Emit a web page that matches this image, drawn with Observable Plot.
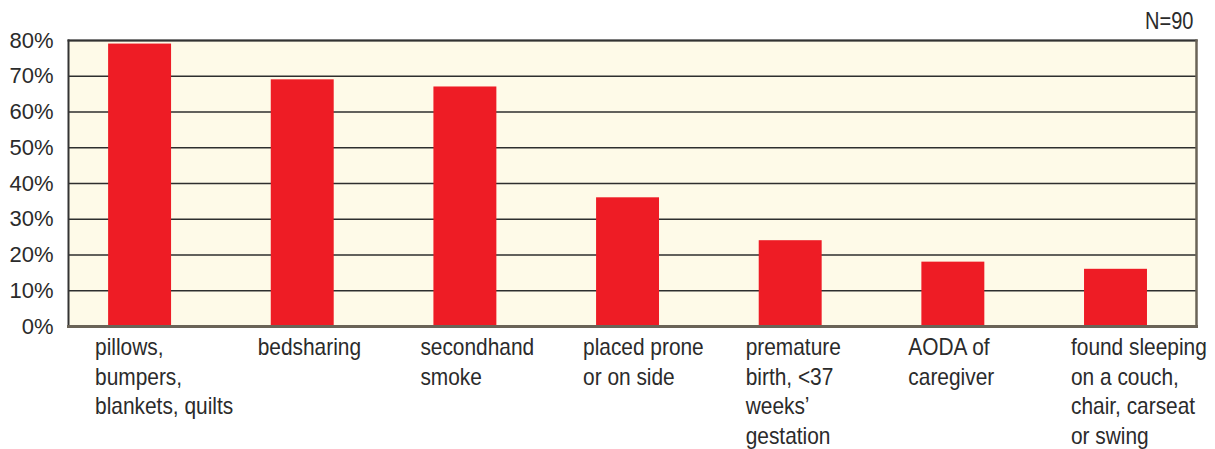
<!DOCTYPE html>
<html>
<head>
<meta charset="utf-8">
<script src="https://cdn.jsdelivr.net/npm/d3@7"></script>
<script src="https://cdn.jsdelivr.net/npm/@observablehq/plot@0.6"></script>
<style>
  html, body { margin: 0; padding: 0; background: #fff; }
  #chart { width: 1215px; height: 449px; }
</style>
</head>
<body>
<div id="chart"></div>
<script>
const categories = [
  "pillows,\nbumpers,\nblankets, quilts",
  "bedsharing",
  "secondhand\nsmoke",
  "placed prone\nor on side",
  "premature\nbirth, <37\nweeks’\ngestation",
  "AODA of\ncaregiver",
  "found sleeping\non a couch,\nchair, carseat\nor swing"
];
const values = [0.79, 0.69, 0.67, 0.36, 0.24, 0.18, 0.16];
const yTicks = [0, 0.1, 0.2, 0.3, 0.4, 0.5, 0.6, 0.7, 0.8];
const note = "N=90";

const data = categories.map((c, i) => ({category: c, value: values[i]}));

const FONT = "'Liberation Sans', Arial, sans-serif";
const chart = Plot.plot({
  width: 1215,
  height: 449,
  marginTop: 40,
  marginBottom: 123,
  marginLeft: 68,
  marginRight: 19,
  style: {fontFamily: FONT, fontSize: "22px", color: "#2b2b2b", background: "#fff"},
  x: {domain: categories, paddingInner: 0.613, paddingOuter: 0.274, align: 0.45, round: false, axis: null},
  y: {domain: [0, 0.8], axis: null},
  marks: [
    Plot.frame({fill: "#fefae8", stroke: null}),
    Plot.ruleY(yTicks, {stroke: "#2e2e2e", strokeWidth: 1.5}),
    Plot.barY(data, {x: "category", y: "value", fill: "#ee1c25"}),
    Plot.axisY(yTicks, {tickSize: 0, tickPadding: 15, tickFormat: d3.format(".0%"), fontSize: 22, fill: "#2b2b2b", label: null}),
    Plot.text(categories, {x: d => d, frameAnchor: "bottom", lineAnchor: "top", textAnchor: "start", dx: -45, dy: 8, lineHeight: 1.23, fontSize: 24, fill: "#2b2b2b", className: "narrow"}),
    Plot.text([note], {frameAnchor: "top-right", textAnchor: "end", lineAnchor: "bottom", dx: -3, dy: -12, fontSize: 23, fill: "#2b2b2b", className: "narrow"}),
    Plot.frame({anchor: "left", stroke: "#333", strokeWidth: 2}),
    Plot.frame({anchor: "top", stroke: "#333", strokeWidth: 2}),
    Plot.frame({anchor: "right", stroke: "#6a6357", strokeWidth: 2.5}),
    Plot.frame({anchor: "bottom", stroke: "#6a6357", strokeWidth: 3})
  ]
});
// Emulate the condensed typeface of the original by narrowing the text horizontally
chart.querySelectorAll("g.narrow text").forEach(t => {
  const tr = t.getAttribute("transform") || "";
  t.setAttribute("transform", (tr + " scale(0.87,1)").trim());
});
document.getElementById("chart").appendChild(chart);
</script>
</body>
</html>
